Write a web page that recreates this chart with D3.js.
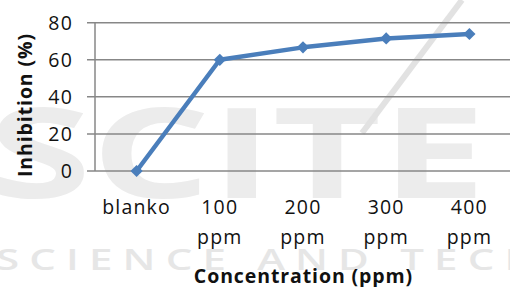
<!DOCTYPE html>
<html>
<head>
<meta charset="utf-8">
<script src="https://cdn.jsdelivr.net/npm/d3@7"></script>
<style>
  body { margin: 0; background: #fff; }
  svg { display: block; }
  text { font-family: 'Open Sans', sans-serif; fill: #111; }
</style>
</head>
<body>
<div id="chart"></div>
<script>
// data
var categories = ['blanko', '100 ppm', '200 ppm', '300 ppm', '400 ppm'];
var inhibition = [0, 60, 66.7, 71.5, 73.9];
var yTicks = [0, 20, 40, 60, 80];

var width = 510, height = 287;
var margin = {top: 22.7, right: -1, bottom: 116, left: 95};

var svg = d3.select('#chart').append('svg')
  .attr('width', width)
  .attr('height', height);

// faint watermark behind the chart (stretched wide like the logo)
var wm = svg.append('g').attr('class', 'watermark');
wm.append('text')
  .attr('transform', 'translate(-12,198) scale(1.5,1)')
  .style('font-size', '125px').style('font-weight', 'bold')
  .style('fill', '#ececec')
  .text('SCITE');
wm.append('line')
  .attr('x1', 462).attr('y1', 0).attr('x2', 362).attr('y2', 133)
  .style('stroke', '#e2e2e2').style('stroke-width', 6);
wm.append('text')
  .attr('transform', 'translate(-4,270) scale(1.5,1)')
  .attr('textLength', 360).attr('lengthAdjust', 'spacing')
  .style('font-size', '28px').style('font-weight', 600)
  .style('fill', '#e6e6e6')
  .text('SCIENCE AND TECH');

var x = d3.scaleBand()
  .domain(categories)
  .range([margin.left, width - margin.right]);

var y = d3.scaleLinear()
  .domain([0, 80])
  .range([171, margin.top]);

// gridlines
svg.append('g')
  .selectAll('line')
  .data(yTicks)
  .enter().append('line')
    .attr('x1', margin.left - 8)
    .attr('x2', width)
    .attr('y1', function(d) { return y(d); })
    .attr('y2', function(d) { return y(d); })
    .style('stroke', '#878787')
    .style('stroke-width', 1.5);

// y axis line
svg.append('line')
  .attr('x1', margin.left).attr('x2', margin.left)
  .attr('y1', y(0)).attr('y2', y(80))
  .style('stroke', '#878787')
  .style('stroke-width', 1.5);

// y tick labels
svg.append('g')
  .selectAll('text')
  .data(yTicks)
  .enter().append('text')
    .attr('x', 73)
    .attr('y', function(d) { return y(d) + 7; })
    .style('text-anchor', 'end')
    .style('font-size', '19.5px')
    .style('letter-spacing', '1.2px')
    .text(function(d) { return d; });

// x tick labels, split on space
var xl = svg.append('g')
  .selectAll('text')
  .data(categories)
  .enter().append('text')
    .attr('y', 213.5)
    .style('text-anchor', 'middle')
    .style('font-size', '19.5px')
    .style('letter-spacing', '1.2px');

xl.each(function(d) {
  var parts = d.split(' ');
  var cx = x(d) + x.bandwidth() / 2;
  var t = d3.select(this);
  parts.forEach(function(p, i) {
    t.append('tspan')
      .attr('x', cx)
      .attr('dy', i == 0 ? 0 : 30.5)
      .text(p);
  });
});

// line + markers
var line = d3.line()
  .x(function(d, i) { return x(categories[i]) + x.bandwidth() / 2; })
  .y(function(d) { return y(d); });

svg.append('path')
  .datum(inhibition)
  .attr('d', line)
  .style('fill', 'none')
  .style('stroke', '#4a7ebb')
  .style('stroke-width', 4.5)
  .style('stroke-linejoin', 'round');

svg.append('g')
  .selectAll('path')
  .data(inhibition)
  .enter().append('path')
    .attr('d', d3.symbol().type(d3.symbolDiamond2).size(95))
    .attr('transform', function(d, i) {
      return 'translate(' + (x(categories[i]) + x.bandwidth() / 2) + ',' + y(d) + ')';
    })
    .style('fill', '#4a7ebb');

// axis titles
svg.append('text')
  .attr('x', (margin.left + width) / 2 + 1)
  .attr('y', 283)
  .style('text-anchor', 'middle')
  .style('font-size', '19.5px')
  .style('font-weight', 'bold')
  .style('letter-spacing', '0.9px')
  .text('Concentration (ppm)');

svg.append('text')
  .attr('transform', 'translate(32,105) rotate(-90)')
  .style('text-anchor', 'middle')
  .style('font-size', '19.5px')
  .style('font-weight', 'bold')
  .style('letter-spacing', '0.9px')
  .text('Inhibition (%)');
</script>
</body>
</html>
